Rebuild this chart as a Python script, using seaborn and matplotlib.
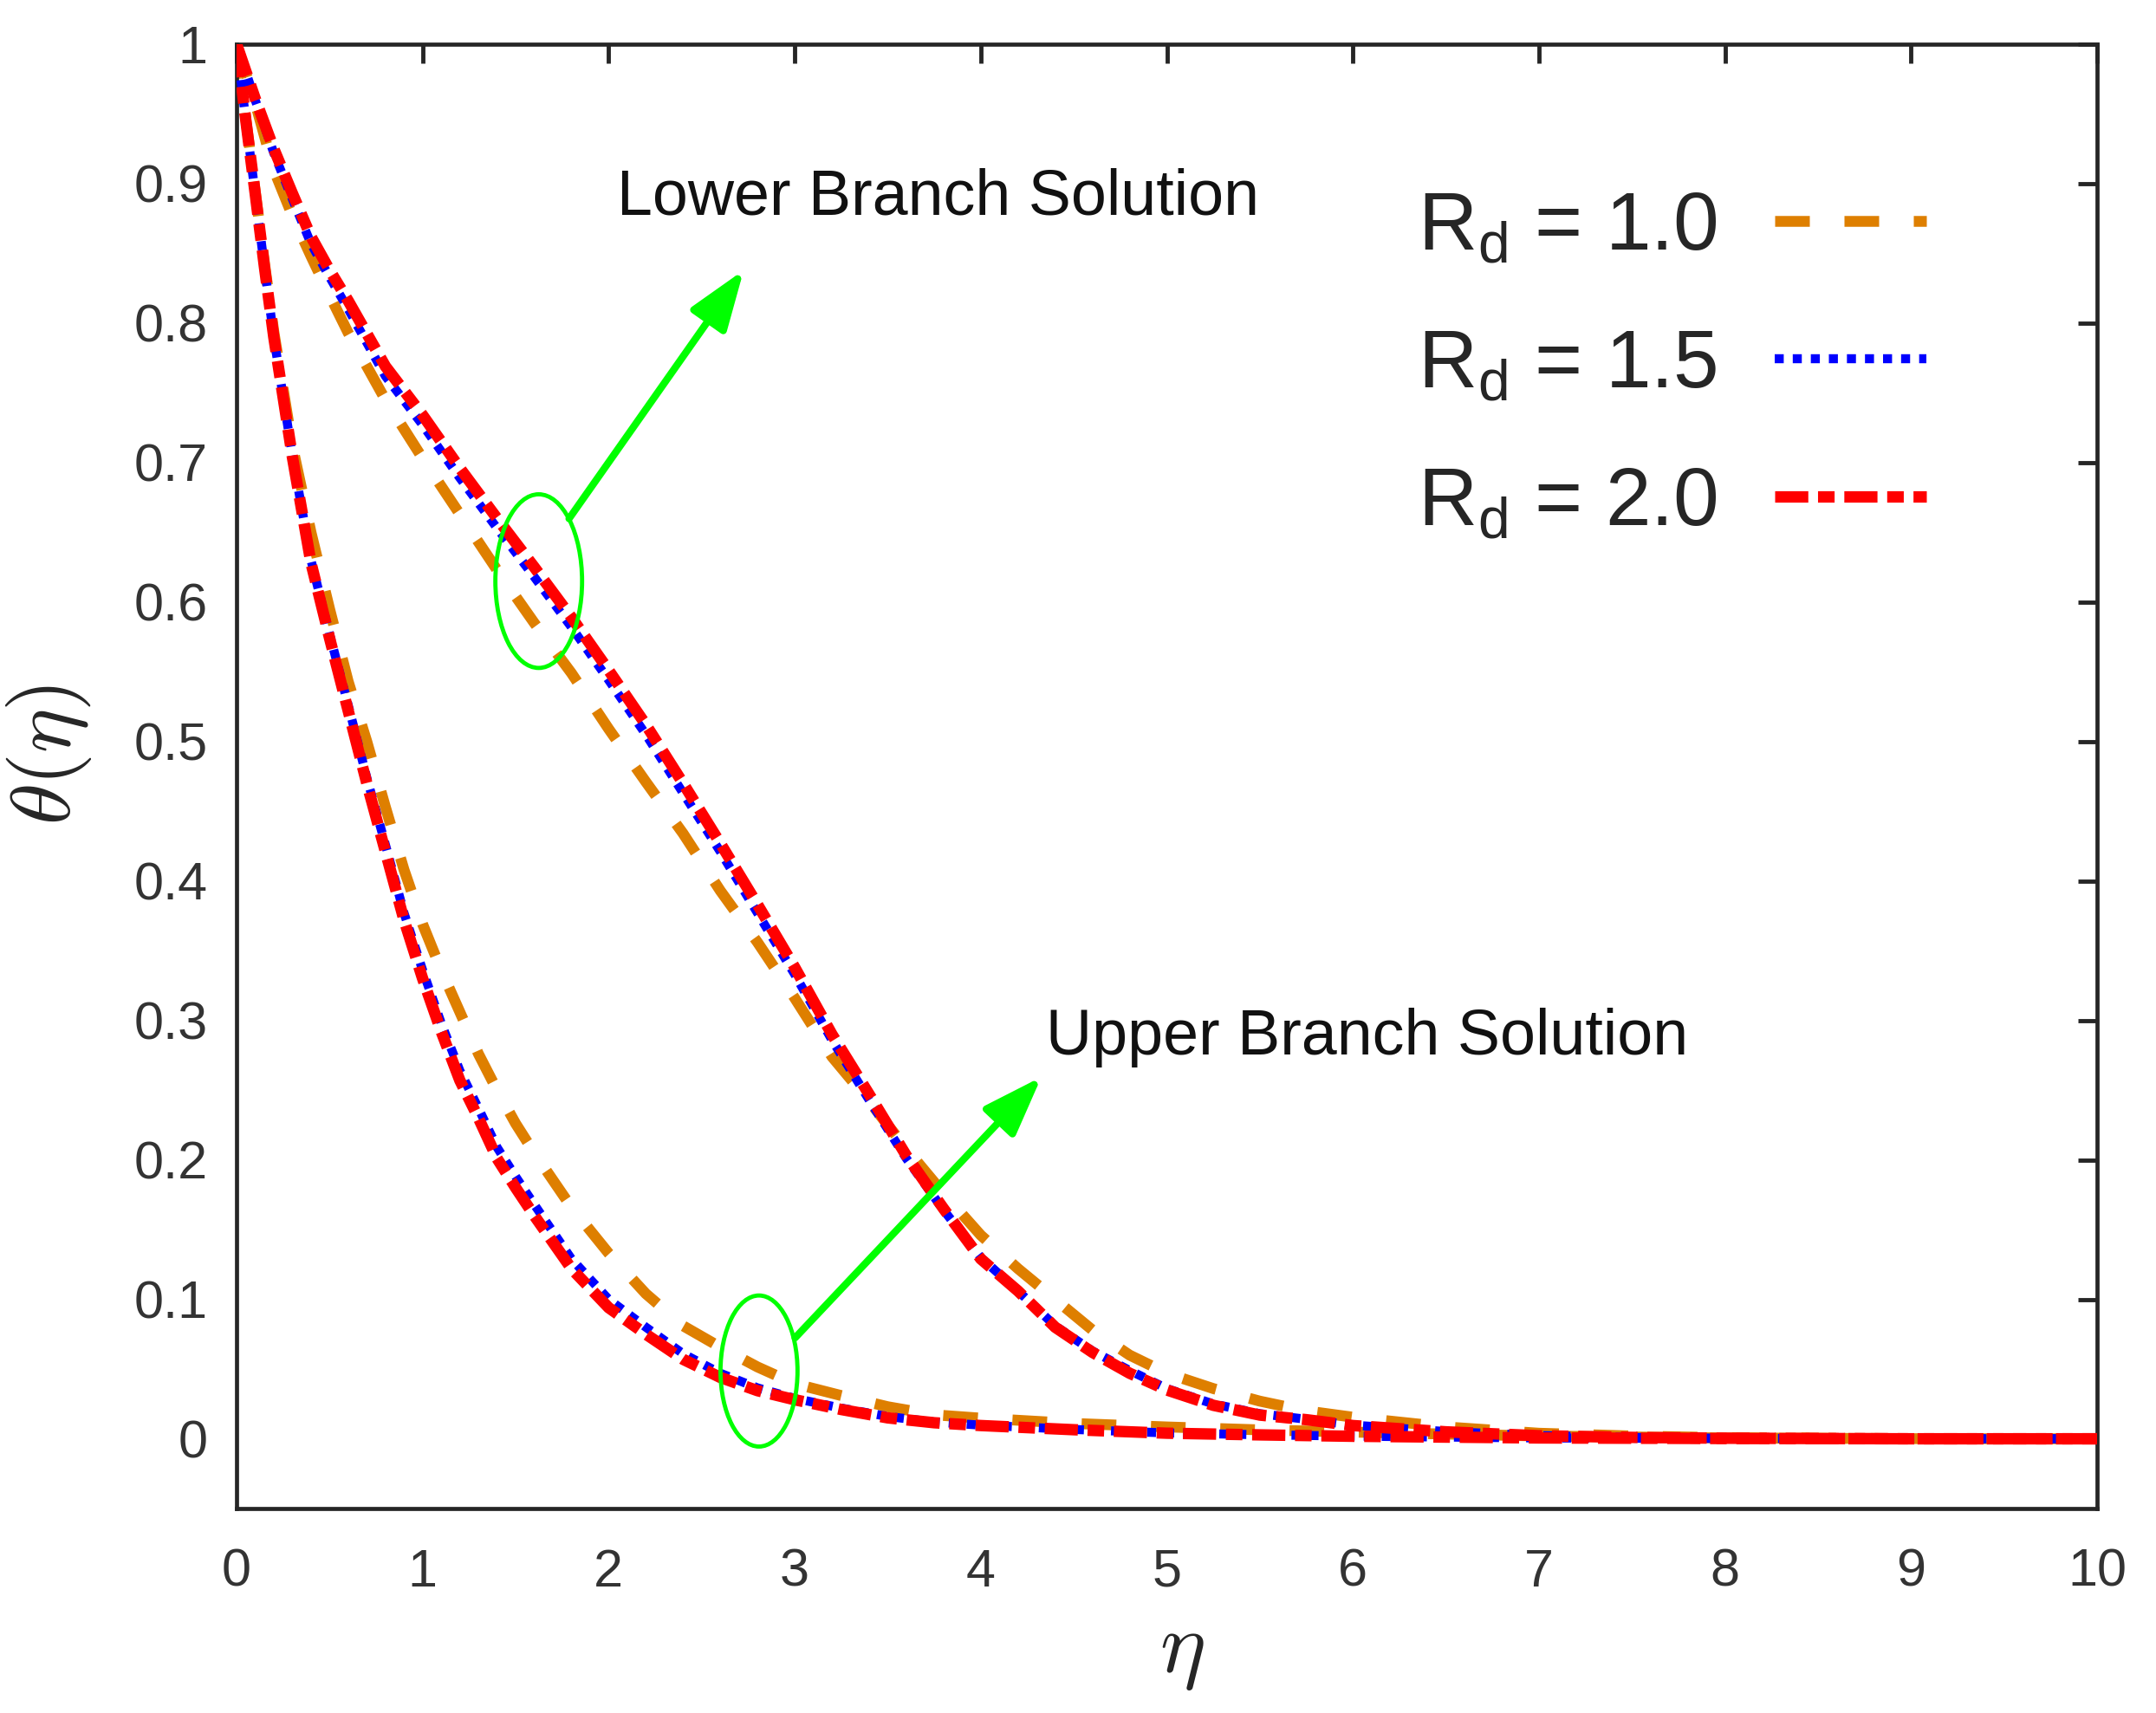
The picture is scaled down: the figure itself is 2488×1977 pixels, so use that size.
import numpy as np
import pandas as pd
import matplotlib
matplotlib.use("Agg")
import matplotlib.pyplot as plt
from matplotlib.patches import Ellipse
import seaborn as sns

# ---------------- data ----------------
eta_upper = [0, 0.05, 0.1, 0.15, 0.2, 0.3, 0.4, 0.5, 0.6, 0.7, 0.8, 0.9, 1.0, 1.1, 1.2,
             1.3, 1.4, 1.5, 1.6, 1.8, 2.0, 2.2, 2.4, 2.6, 2.8, 3.0, 3.25, 3.5, 3.75, 4.0,
             4.5, 5.0, 5.5, 6.0, 7.0, 8.0, 9.0, 10.0]
theta_upper_rd10 = [1.0, 0.946, 0.895, 0.843, 0.794, 0.712, 0.650, 0.595, 0.543, 0.500,
                    0.453, 0.408, 0.369, 0.336, 0.306, 0.276, 0.250, 0.226, 0.205, 0.166,
                    0.133, 0.104, 0.081, 0.0657, 0.0515, 0.0395, 0.031, 0.023, 0.0172, 0.0148,
                    0.011, 0.0085, 0.0064, 0.0048, 0.002, 0.0006, 0.0001, 0.0]
theta_upper_rd15 = [1.0, 0.945, 0.893, 0.840, 0.790, 0.705, 0.630, 0.577, 0.526, 0.474,
                    0.426, 0.377, 0.336, 0.298, 0.264, 0.237, 0.209, 0.188, 0.168, 0.129,
                    0.100, 0.080, 0.061, 0.047, 0.0365, 0.029, 0.022, 0.016, 0.012, 0.0098,
                    0.0067, 0.0042, 0.0029, 0.0019, 0.0006, 0.0002, 0.0, 0.0]
theta_upper_rd20 = [1.0, 0.945, 0.893, 0.840, 0.790, 0.704, 0.628, 0.574, 0.522, 0.470,
                    0.421, 0.372, 0.330, 0.292, 0.257, 0.230, 0.201, 0.180, 0.160, 0.122,
                    0.094, 0.075, 0.057, 0.044, 0.0345, 0.028, 0.021, 0.015, 0.0115, 0.0095,
                    0.0065, 0.004, 0.0028, 0.0018, 0.0006, 0.0002, 0.0, 0.0]

eta_lower = [0, 0.1, 0.2, 0.3, 0.4, 0.5, 0.6, 0.8, 1.0, 1.2, 1.4, 1.6, 1.8, 2.0, 2.2, 2.4,
             2.6, 2.8, 3.0, 3.2, 3.4, 3.6, 3.8, 4.0, 4.2, 4.4, 4.6, 4.8, 5.0, 5.25, 5.5,
             5.75, 6.0, 6.5, 7.0, 7.5, 8.0, 9.0, 10.0]
theta_lower_rd10 = [1.0, 0.958, 0.910, 0.877, 0.848, 0.820, 0.793, 0.745, 0.703, 0.663,
                    0.623, 0.585, 0.549, 0.509, 0.471, 0.434, 0.393, 0.356, 0.316, 0.274,
                    0.242, 0.208, 0.176, 0.146, 0.122, 0.100, 0.078, 0.060, 0.047, 0.036,
                    0.027, 0.020, 0.0155, 0.0085, 0.004, 0.002, 0.0008, 0.0001, 0.0]
theta_lower_rd15 = [1.0, 0.960, 0.922, 0.889, 0.857, 0.833, 0.810, 0.762, 0.727, 0.689,
                    0.653, 0.618, 0.582, 0.544, 0.505, 0.463, 0.421, 0.377, 0.333, 0.286,
                    0.243, 0.201, 0.164, 0.130, 0.106, 0.081, 0.063, 0.049, 0.036, 0.025,
                    0.018, 0.014, 0.0098, 0.0052, 0.0023, 0.001, 0.0004, 0.0, 0.0]
theta_lower_rd20 = [1.0, 0.961, 0.925, 0.893, 0.862, 0.838, 0.816, 0.769, 0.734, 0.696,
                    0.660, 0.625, 0.589, 0.551, 0.512, 0.470, 0.427, 0.383, 0.338, 0.290,
                    0.247, 0.203, 0.165, 0.129, 0.106, 0.080, 0.062, 0.047, 0.035, 0.024,
                    0.017, 0.0137, 0.0095, 0.005, 0.0022, 0.001, 0.0004, 0.0, 0.0]

rd_levels = ["1.0", "1.5", "2.0"]
legend_labels = [r"$\mathregular{R_d}$ = 1.0", r"$\mathregular{R_d}$ = 1.5", r"$\mathregular{R_d}$ = 2.0"]
x_ticks = [0, 1, 2, 3, 4, 5, 6, 7, 8, 9, 10]
y_ticks = [0, 0.1, 0.2, 0.3, 0.4, 0.5, 0.6, 0.7, 0.8, 0.9, 1.0]
y_tick_labels = ["0", "0.1", "0.2", "0.3", "0.4", "0.5", "0.6", "0.7", "0.8", "0.9", "1"]

# ---------------- long table ----------------
frames = []
for rd, up, lo in zip(rd_levels,
                      [theta_upper_rd10, theta_upper_rd15, theta_upper_rd20],
                      [theta_lower_rd10, theta_lower_rd15, theta_lower_rd20]):
    frames.append(pd.DataFrame({"eta": eta_upper, "theta": up, "branch": "upper", "Rd": rd}))
    frames.append(pd.DataFrame({"eta": eta_lower, "theta": lo, "branch": "lower", "Rd": rd}))
df = pd.concat(frames, ignore_index=True)

# ---------------- style ----------------
sns.set_theme(style="white")
plt.rcParams["font.family"] = ["Liberation Sans", "DejaVu Sans"]
plt.rcParams["mathtext.fontset"] = "cm"

styles = {
    "1.0": dict(color="#DE7F00", lw=9.0, dash=(3.2, 3.2)),
    "1.5": dict(color="#0000FF", lw=7.5, dash=(1.0, 1.0)),
    "2.0": dict(color="#FF0000", lw=9.5, dash=(2.9, 0.85, 1.45, 0.85)),
}

fig = plt.figure(figsize=(24.88, 19.77), dpi=100)
ax = fig.add_axes([0.10973, 0.11937, 0.86294, 0.85483])

handles = []
for i, rd in enumerate(rd_levels):
    st = styles[rd]
    first = None
    for br in ["upper", "lower"]:
        sub = df[(df["Rd"] == rd) & (df["branch"] == br)]
        sns.lineplot(data=sub, x="eta", y="theta", ax=ax, color=st["color"],
                     linewidth=st["lw"], estimator=None, sort=False, legend=False,
                     zorder=2 + i)
        ln = ax.lines[-1]
        ln.set_linestyle((0, st["dash"]))
        ln.set_dash_capstyle("butt")
        if first is None:
            first = ln
    handles.append(first)

ax.set_xlim(0, 10)
ax.set_ylim(-0.05, 1.0)
ax.set_xticks(x_ticks)
ax.set_xticklabels([str(t) for t in x_ticks])
ax.set_yticks(y_ticks)
ax.set_yticklabels(y_tick_labels)

for sp in ax.spines.values():
    sp.set_visible(True)
    sp.set_linewidth(3.4)
    sp.set_color("#262626")

ax.tick_params(axis="both", direction="in", length=16, width=3.5, color="#262626",
               top=True, right=True, labelsize=44, labelcolor="#333333")
ax.tick_params(axis="x", pad=33)
ax.tick_params(axis="y", pad=24)

ax.set_xlabel(r"$\eta$", fontsize=72)
ax.set_ylabel(r"$\theta(\eta)$", fontsize=70)
ax.xaxis.set_label_coords(0.508, -0.07)
ax.yaxis.set_label_coords(-0.077, 0.515)

# ---------------- annotations ----------------
green = "#00FF00"
ax.add_patch(Ellipse((1.624, 0.615), 0.466, 0.1245, fill=False, ec=green, lw=3.5, zorder=6))
ax.add_patch(Ellipse((2.808, 0.0486), 0.414, 0.1083, fill=False, ec=green, lw=3.5, zorder=6))
arrow_kw = dict(arrowstyle="-|>,head_length=42,head_width=15", color=green, lw=6,
                shrinkA=0, shrinkB=0, mutation_scale=1)
ax.annotate("", xy=(2.726, 0.838), xytext=(1.787, 0.6598), arrowprops=arrow_kw, zorder=7)
ax.annotate("", xy=(4.326, 0.2595), xytext=(3.002, 0.0724), arrowprops=arrow_kw, zorder=7)

ax.text(2.047, 0.878, "Lower Branch Solution", fontsize=53, color="#111111",
        ha="left", va="baseline")
ax.text(4.352, 0.2755, "Upper Branch Solution", fontsize=53, color="#111111",
        ha="left", va="baseline")

ax.legend(handles, legend_labels, loc="upper left", bbox_to_anchor=(0.6576, 0.889),
          bbox_transform=fig.transFigure, frameon=False, markerfirst=False,
          handlelength=1.85, handletextpad=0.7, labelspacing=0.74, borderpad=0,
          borderaxespad=0, fontsize=68)

fig.savefig("out.png", dpi=100, facecolor="white")
